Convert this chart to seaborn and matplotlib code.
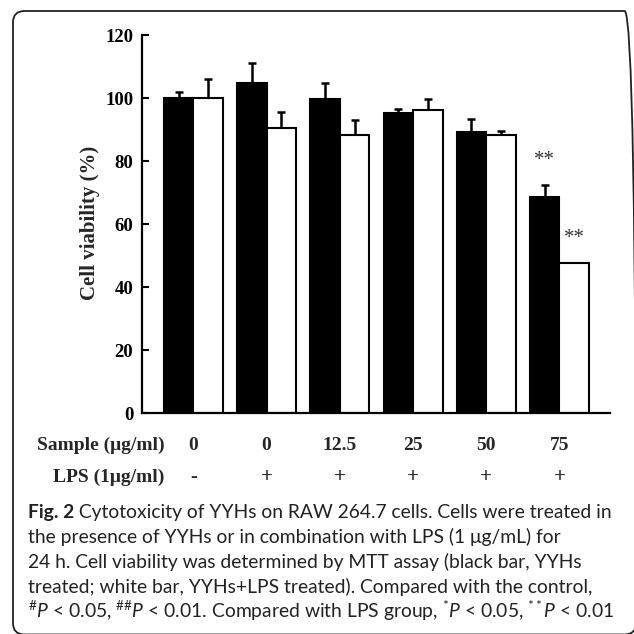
import numpy as np
import pandas as pd
import matplotlib
matplotlib.use("Agg")
import matplotlib.pyplot as plt
import matplotlib.transforms as mtransforms
from matplotlib.patches import FancyBboxPatch
import seaborn as sns

# ---------------- data ----------------
groups = ["g1", "g2", "g3", "g4", "g5", "g6"]
sample_labels = ["0", "0", "12.5", "25", "50", "75"]
lps_labels = ["-", "+", "+", "+", "+", "+"]
series = ["YYHs", "YYHs+LPS"]
yyhs_mean = [100.0, 104.9, 99.7, 95.1, 89.3, 68.6]
yyhs_sd = [2.0, 6.3, 5.0, 1.5, 4.0, 3.9]
lps_mean = [100.0, 90.6, 88.2, 96.1, 88.3, 47.7]
lps_sd = [6.0, 4.9, 4.9, 3.5, 1.4, 0.0]
yyhs_sig = ["", "", "", "", "", "**"]
lps_sig = ["", "", "", "", "", "**"]
y_ticks = [0, 20, 40, 60, 80, 100, 120]
caption_bold = "Fig. 2"
caption_lines = [
    " Cytotoxicity of YYHs on RAW 264.7 cells. Cells were treated in",
    "the presence of YYHs or in combination with LPS (1 \u03bcg/mL) for",
    "24 h. Cell viability was determined by MTT assay (black bar, YYHs",
    "treated; white bar, YYHs+LPS treated). Compared with the control,",
    r"${}^{\#}P$ < 0.05, ${}^{\#\#}P$ < 0.01. Compared with LPS group, ${}^{*}P$ < 0.05, ${}^{**}P$ < 0.01",
]

df = pd.DataFrame({
    "group": groups * 2,
    "series": [series[0]] * 6 + [series[1]] * 6,
    "value": yyhs_mean + lps_mean,
})

# ---------------- style ----------------
sns.set_theme(style="white")
plt.rcParams["font.family"] = ["Liberation Serif", "DejaVu Serif"]
CAP_FONT = "Lato"
plt.rcParams["mathtext.fontset"] = "custom"
plt.rcParams["mathtext.rm"] = CAP_FONT
plt.rcParams["mathtext.it"] = CAP_FONT + ":italic"
plt.rcParams["mathtext.bf"] = CAP_FONT + ":bold"

W = H = 634
fig = plt.figure(figsize=(W / 100, H / 100), dpi=100)
fig.patch.set_facecolor("white")

ax_left, ax_right, ax_top, ax_bottom = 141.7, 610.0, 35.0, 413.3
ax = fig.add_axes([ax_left / W, 1 - ax_bottom / H,
                   (ax_right - ax_left) / W, (ax_bottom - ax_top) / H])

sns.barplot(data=df, x="group", y="value", hue="series", order=groups,
            hue_order=series, palette=["black", "white"], saturation=1,
            edgecolor="black", linewidth=1.5, width=0.806, errorbar=None,
            legend=False, ax=ax, zorder=2)

# error bars (upper only) and significance marks
for cont, means, sds, sigs in zip(ax.containers, [yyhs_mean, lps_mean],
                                  [yyhs_sd, lps_sd], [yyhs_sig, lps_sig]):
    xs = np.array([p.get_x() + p.get_width() / 2 for p in cont])
    m = np.array(means)
    s = np.array(sds)
    mask = s > 0
    ax.errorbar(xs[mask], m[mask], yerr=[np.zeros(mask.sum()), s[mask]],
                fmt="none", ecolor="black", elinewidth=1.8, capsize=3.2,
                capthick=1.8, zorder=1)
    for x, mv, sv, sg in zip(xs, m, s, sigs):
        if sg:
            ax.text(x, mv + sv + 6.4, sg, ha="center", va="baseline",
                    fontsize=15, color="#333333", family="Liberation Serif")

ax.set_ylim(0, 120)
ax.set_xlim(-0.705, 5.69)
ax.set_yticks(y_ticks)
ax.set_yticklabels([str(t) for t in y_ticks], fontsize=13.5, fontweight="bold")
ax.set_xticks([])
ax.set_xlabel("")
ax.set_ylabel("")
ax.tick_params(axis="y", direction="in", length=5, width=1.5, pad=6,
               colors="black", left=True)
for sp in ["top", "right"]:
    ax.spines[sp].set_visible(False)
for sp in ["left", "bottom"]:
    ax.spines[sp].set_color("black")
    ax.spines[sp].set_linewidth(1.6)
ax.grid(False)
ax.set_facecolor("white")

# y label
fig.text(90 / W, 1 - 223 / H, "Cell viability (%)", rotation=90, ha="center",
         va="center", fontsize=15, fontweight="bold")

# row labels under axis
trans = mtransforms.blended_transform_factory(ax.transData, fig.transFigure)
row_base = [449.5, 482.0]
fig.text(164.3 / W, 1 - row_base[0] / H, "Sample (\u03bcg/ml)", ha="right",
         va="baseline", fontsize=14, fontweight="bold")
fig.text(164.3 / W, 1 - row_base[1] / H, "LPS (1\u03bcg/ml)", ha="right",
         va="baseline", fontsize=14, fontweight="bold")
for i, (sl, ll) in enumerate(zip(sample_labels, lps_labels)):
    ax.text(i, 1 - row_base[0] / H, sl, transform=trans, ha="center",
            va="baseline", fontsize=14, fontweight="bold")
    ax.text(i, 1 - row_base[1] / H, ll, transform=trans, ha="center",
            va="baseline", fontsize=15, fontweight="bold")

# caption
cap_x = 28.0
cap_base = [518, 543, 568, 593, 618]
base_fs = 12.0
t_bold = fig.text(cap_x / W, 1 - cap_base[0] / H, caption_bold, ha="left",
                  va="baseline", fontsize=base_fs, family=CAP_FONT,
                  fontweight="bold", color="#222222")
cap_texts = []
for line, b in zip(caption_lines, cap_base):
    t = fig.text(cap_x / W, 1 - b / H, line, ha="left", va="baseline",
                 fontsize=base_fs, family=CAP_FONT, color="#222222")
    cap_texts.append(t)
fig.canvas.draw()
r = fig.canvas.get_renderer()
w_total = (t_bold.get_window_extent(r).width
           + cap_texts[0].get_window_extent(r).width)
scale = (613.0 - cap_x) / w_total
t_bold.set_fontsize(base_fs * scale)
for t in cap_texts:
    t.set_fontsize(base_fs * scale)
fig.canvas.draw()
wb = t_bold.get_window_extent(r).width
cap_texts[0].set_x((cap_x + wb) / W)

# rounded frame
frame = FancyBboxPatch((13 / W, -0.5 / H), (636 - 13) / W, (634.5 - 11) / H,
                       boxstyle="round,pad=0,rounding_size=0.018",
                       transform=fig.transFigure, facecolor="none",
                       edgecolor="#222222", linewidth=1.3, clip_on=False)
fig.add_artist(frame)

fig.savefig("out.png", dpi=100, facecolor="white")
